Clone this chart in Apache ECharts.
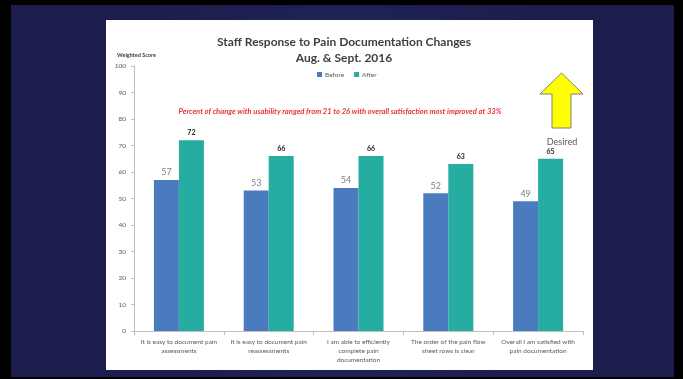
<!DOCTYPE html>
<html>
<head>
<meta charset="utf-8">
<script src="https://cdn.jsdelivr.net/npm/echarts@6/dist/echarts.min.js"></script>
<style>
  html, body { margin: 0; padding: 0; background: #000; }
  #chart { width: 683px; height: 379px; }
</style>
</head>
<body>
<div id="chart"></div>
<script>
var categories = [
  'It is easy to document pain\nassessments',
  'It is easy to document pain\nreassessments',
  'I am able to efficiently\ncomplete pain\ndocumentation',
  'The order of the pain flow\nsheet rows is clear',
  'Overall I am satisfied with\npain documentation'
];
var before = [57, 53, 54, 52, 49];
var after = [72, 66, 66, 63, 65];
var yTicks = { min: 0, max: 100, interval: 10 };

var font = 'Lato, "Open Sans", sans-serif';

// 初始化图表
var myChart = echarts.init(document.getElementById('chart'));

var option = {
  backgroundColor: '#000',
  textStyle: { fontFamily: font },
  title: {
    text: 'Staff Response to Pain Documentation Changes\nAug. & Sept. 2016',
    left: 339,
    textAlign: 'center',
    top: 29,
    textStyle: { fontSize: 12, fontWeight: 'bold', color: '#404040', lineHeight: 16, fontFamily: font }
  },
  legend: {
    data: ['Before', 'After'],
    left: 312,
    top: 66,
    itemWidth: 5,
    itemHeight: 5,
    itemGap: 10,
    icon: 'rect',
    textStyle: { fontSize: 6.5, color: '#595959', padding: [0, 0, 0, -2] }
  },
  grid: { left: 134, right: 100, top: 66, bottom: 48 },
  xAxis: {
    type: 'category',
    data: categories,
    axisLine: { lineStyle: { color: '#bfbfbf' } },
    axisTick: { show: true, length: 4, lineStyle: { color: '#bfbfbf' } },
    axisLabel: { interval: 0, fontSize: 6.5, color: '#595959', lineHeight: 9, margin: 6 }
  },
  yAxis: {
    type: 'value',
    min: yTicks.min,
    max: yTicks.max,
    interval: yTicks.interval,
    splitLine: { show: false },
    axisLine: { show: true, lineStyle: { color: '#bfbfbf' } },
    axisTick: { show: true, length: 3, lineStyle: { color: '#bfbfbf' } },
    axisLabel: { fontSize: 6.5, color: '#595959', margin: 8 }
  },
  series: [
    {
      name: 'Before',
      type: 'bar',
      data: before,
      barWidth: 25,
      barGap: '0%',
      itemStyle: { color: '#4a7bbf' },
      label: { show: true, position: 'top', fontSize: 9, color: '#7f7f7f', distance: 3 }
    },
    {
      name: 'After',
      type: 'bar',
      data: after,
      barWidth: 25,
      itemStyle: { color: '#25ada1' },
      label: { show: true, position: 'top', fontSize: 7, fontWeight: 'bold', color: '#262626', distance: 4 }
    }
  ],
  graphic: [
    {
      type: 'rect', z: -20, silent: true,
      shape: { x: 11, y: 5, width: 663, height: 372 },
      style: {
        fill: new echarts.graphic.RadialGradient(0.5, 0.5, 0.7, [
          { offset: 0, color: '#272a62' },
          { offset: 1, color: '#1c1d4c' }
        ])
      }
    },
    {
      type: 'rect', z: -10, silent: true,
      shape: { x: 106, y: 20, width: 487, height: 350 },
      style: { fill: '#ffffff' }
    },
    {
      type: 'text', silent: true,
      x: 117, y: 55,
      style: { text: 'Weighted Score', fontSize: 5.5, fontWeight: 'bold', fill: '#404040', align: 'left', verticalAlign: 'middle', fontFamily: font }
    },
    {
      type: 'text', silent: true,
      x: 340, y: 112,
      style: { text: 'Percent of change with usability ranged from 21 to 26 with overall satisfaction most improved at 33%', fontSize: 7.6, fontWeight: 'bold', fontStyle: 'italic', fill: '#e8333a', align: 'center', verticalAlign: 'middle', fontFamily: font }
    },
    {
      type: 'polygon', silent: true,
      shape: { points: [[561.5, 73], [540, 94], [552, 94], [552, 128], [571, 128], [571, 94], [583, 94]] },
      style: { fill: '#ffff00', stroke: '#808080', lineWidth: 1 }
    },
    {
      type: 'text', silent: true,
      x: 562, y: 142,
      style: { text: 'Desired', fontSize: 9, fill: '#595959', align: 'center', verticalAlign: 'middle', fontFamily: font }
    }
  ]
};

myChart.setOption(option);
</script>
</body>
</html>
